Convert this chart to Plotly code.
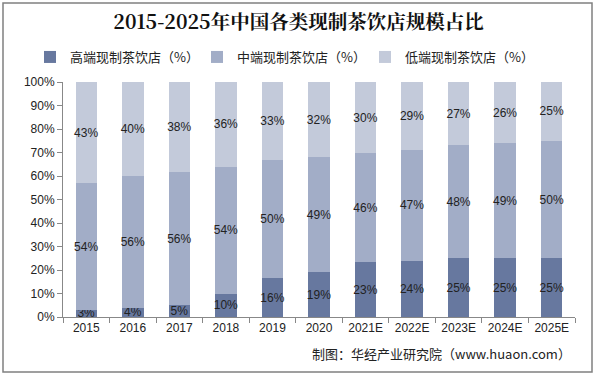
import plotly.graph_objects as go

categories = ["2015", "2016", "2017", "2018", "2019", "2020", "2021E", "2022E", "2023E", "2024E", "2025E"]
high_end = [3.0, 4.0, 5.2, 10.0, 16.4, 19.0, 23.3, 24.0, 25.0, 25.0, 25.0]
mid_end = [54.0, 56.0, 56.4, 54.0, 50.3, 49.0, 46.4, 47.0, 48.0, 49.0, 50.0]
low_end = [43.0, 40.0, 38.4, 36.0, 33.3, 32.0, 30.3, 29.0, 27.0, 26.0, 25.0]
series_names = ["高端现制茶饮店（%）", "中端现制茶饮店（%）", "低端现制茶饮店（%）"]
colors = ["#67789F", "#A2ADC7", "#C3CADA"]
y_ticks = [0, 10, 20, 30, 40, 50, 60, 70, 80, 90, 100]
y_tick_labels = [f"{v}%" for v in y_ticks]

W, H = 597, 377
ml, mr, mt, mb = 63, 22, 82, 60
pw, ph = W - ml - mr, H - mt - mb


def px_x(p):
    return (p - ml) / pw


def px_y(p):
    return (H - mb - p) / ph


legend_ids = ["legend", "legend2", "legend3"]
legend_x_px = [30, 197, 365]

fig = go.Figure()
for name, vals, col, lid in zip(series_names, [high_end, mid_end, low_end], colors, legend_ids):
    fig.add_trace(go.Bar(
        x=categories, y=vals, name=name, marker_color=col, marker_line_width=0,
        texttemplate="%{y:.0f}%", textposition="inside", insidetextanchor="middle",
        textangle=0, constraintext="none", legend=lid,
        textfont=dict(family="Liberation Sans, Arial", size=12, color="#222222"),
    ))

legend_common = dict(orientation="h", xanchor="left", yanchor="middle", y=px_y(57),
                     font=dict(family="Noto Sans CJK SC", size=13, color="#222222"),
                     itemwidth=30, bgcolor="rgba(0,0,0,0)", borderwidth=0)

fig.update_layout(
    width=W, height=H,
    margin=dict(l=ml, r=mr, t=mt, b=mb, autoexpand=False),
    barmode="stack", bargap=0.54,
    paper_bgcolor="white", plot_bgcolor="white",
    font=dict(family="Liberation Sans, Arial, Noto Sans CJK SC", size=12, color="#222222"),
    title=dict(text="<b>2015-2025年中国各类现制茶饮店规模占比</b>",
               x=0.5, xanchor="center", y=1 - 22 / H, yanchor="middle",
               font=dict(family="Noto Serif CJK SC, Noto Sans CJK SC", size=19.5, color="#111111")),
    legend=dict(x=px_x(legend_x_px[0]), **legend_common),
    legend2=dict(x=px_x(legend_x_px[1]), **legend_common),
    legend3=dict(x=px_x(legend_x_px[2]), **legend_common),
    xaxis=dict(type="category", showline=True, linecolor="#888888", linewidth=1,
               ticks="outside", tickson="boundaries", ticklen=5, tickcolor="#888888",
               showgrid=False, tickfont=dict(size=12), automargin=False),
    yaxis=dict(range=[0, 100], tickvals=y_ticks, ticktext=y_tick_labels,
               showline=True, linecolor="#888888", linewidth=1,
               ticks="outside", ticklen=5, tickcolor="#888888",
               showgrid=False, zeroline=False, tickfont=dict(size=12), automargin=False),
    showlegend=True,
)

fig.add_annotation(text="制图：华经产业研究院（www.huaon.com）", xref="paper", yref="paper",
                   x=px_x(573), y=px_y(353), xanchor="right", yanchor="middle", showarrow=False,
                   font=dict(family="Noto Sans CJK SC", size=13, color="#222222"))
fig.add_shape(type="rect", xref="paper", yref="paper",
              x0=px_x(3), x1=px_x(592), y0=px_y(372), y1=px_y(3),
              line=dict(color="#808080", width=1.5), fillcolor="rgba(0,0,0,0)", layer="below")

fig.write_html("out.html", config={"displayModeBar": False},
               post_script="document.body.style.margin='0';document.body.style.overflow='hidden';")
